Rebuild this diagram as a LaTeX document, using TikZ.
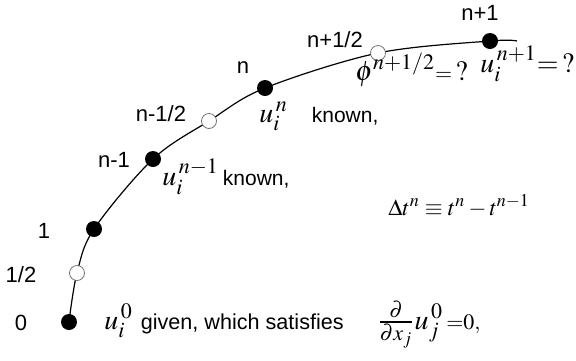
\documentclass[tikz,border=0pt]{standalone}
\usepackage{mathptmx}
\usepackage{fontspec}
\setsansfont{Liberation Sans}
\DeclareMathSizes{14}{14}{11}{9}
\DeclareMathSizes{11.5}{11.5}{9}{7}
\begin{document}
\begin{tikzpicture}[x=0.5pt,y=-0.5pt,
  full/.style={circle,fill=black,inner sep=0pt,minimum size=8pt},
  hollow/.style={circle,draw=black!55,fill=white,line width=0.4pt,inner sep=0pt,minimum size=7.5pt},
  lbl/.style={font=\fontsize{11}{13}\sffamily,inner sep=0pt},
  mth/.style={font=\fontsize{14}{16}\selectfont,inner sep=0pt,anchor=base west}]
\useasboundingbox (0,0) rectangle (576,360);
% curve points
\coordinate (p0) at (69,322);
\coordinate (ph) at (77,273);
\coordinate (p1) at (94,229);
\coordinate (pm1) at (153,159);
\coordinate (pmh) at (209,121);
\coordinate (pn) at (265,88);
\coordinate (pnh) at (378,53);
\coordinate (pn1) at (490,41);
\coordinate (pend) at (517,41);
\draw[line width=0.6pt] plot[smooth,tension=0.55] coordinates {(p0) (ph) (p1) (pm1) (pmh) (pn) (pnh) (pn1) (pend)};
% dots
\node[full] (d0) at (p0) {};
\node[hollow] (dh) at (ph) {};
\node[full] (d1) at (p1) {};
\node[full] (dm1) at (pm1) {};
\node[hollow] (dmh) at (pmh) {};
\node[full] (dn) at (pn) {};
\node[hollow] (dnh) at (pnh) {};
\node[full] (dn1) at (pn1) {};
% index labels
\node[lbl] (l0) at (21,323) {0};
\node[lbl] (lh) at (21,275) {1/2};
\node[lbl] (l1) at (44,231) {1};
\node[lbl] (lm1) at (114,160) {n-1};
\node[lbl] (lmh) at (161,114) {n-1/2};
\node[lbl] (ln) at (243,68) {n};
\node[lbl] (lnh) at (335,40) {n+1/2};
\node[lbl] (ln1) at (480,13) {n+1};
% math annotations
\node[mth] (a0) at (104,329) {$u_i^{\,0}$\hspace{4pt}\fontsize{10.8}{12}\sffamily given, which satisfies};
\node[mth] (a0b) at (377,329) {$\frac{\partial}{\partial x_j}u_j^{\,0}\,{\scriptstyle =0,}$};
\node[mth] (am1) at (162,185) {$u_i^{\,n-1}$\hspace{2pt}\fontsize{10.5}{12}\sffamily known,};
\node[mth] (an) at (259,122) {$u_i^{\,n}$\hspace{12pt}\fontsize{10.5}{12}\sffamily known,};
\node[mth] (anh) at (355,80) {$\phi^{n+1/2}{\scriptstyle =}\,?$};
\node[mth] (an1) at (480,72) {$u_i^{\,n+1}{=}\,?$};
\node[font=\fontsize{11.5}{13}\selectfont,inner sep=0pt,anchor=base west] (dt) at (388,215) {$\Delta t^n \equiv t^n - t^{n-1}$};
\end{tikzpicture}
\end{document}
